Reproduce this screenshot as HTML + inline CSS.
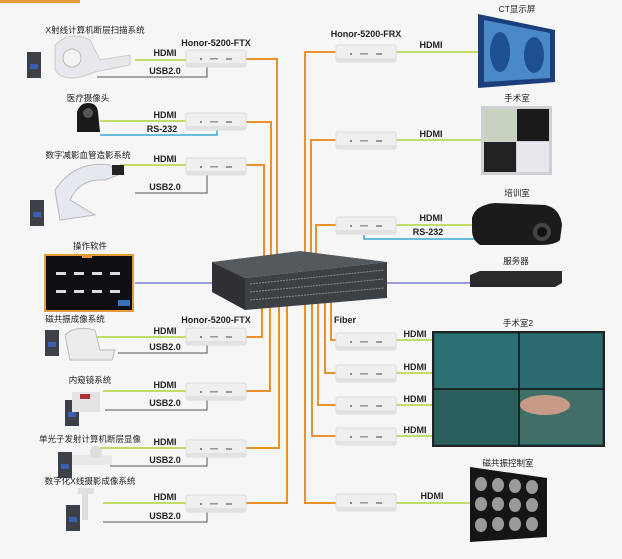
<!DOCTYPE html>
<html><head><meta charset="utf-8"><style>
html,body{margin:0;padding:0;background:#f6f6f6;}
svg{display:block}
text{font-family:"Liberation Sans","Noto Sans CJK SC",sans-serif;fill:#222;}
.l{font-size:9px;font-weight:bold}
.c{font-size:8.5px}
</style></head><body>
<svg width="622" height="559" viewBox="0 0 622 559" xmlns="http://www.w3.org/2000/svg">
<defs>
<g id="box">
<rect x="0" y="0" width="60" height="17" rx="2" fill="#efefef" stroke="#dcdcdc"/>
<rect x="0" y="13" width="60" height="4" fill="#e2e2e2"/>
<rect x="14" y="8" width="2" height="2" fill="#888"/><rect x="24" y="8" width="8" height="1.5" fill="#999"/><rect x="40" y="8" width="6" height="2" fill="#999"/>
</g>
<g id="pc">
<rect x="0" y="0" width="14" height="26" fill="#3c4048"/><rect x="3" y="12" width="8" height="5" fill="#3b5fb0"/>
</g>
</defs>
<rect x="0" y="0" width="622" height="559" fill="#f6f6f6"/>
<rect x="0" y="0" width="80" height="3" fill="#e69a3a"/>

<!-- orange fiber lines -->
<g fill="none" stroke="#e8922e" stroke-width="2">
<polyline points="246,59 277,59 277,258"/>
<polyline points="246,122 271,122 271,258"/>
<polyline points="246,165 264,165 264,260"/>
<polyline points="246,337 262,337 262,305"/>
<polyline points="246,391 270,391 270,305"/>
<polyline points="246,448 279,448 279,303"/>
<polyline points="246,503 287,503 287,302"/>
<polyline points="336,52 305,52 305,255"/>
<polyline points="336,140 311,140 311,255"/>
<polyline points="336,225 316,225 316,256"/>
<polyline points="336,340 331,340 331,300"/>
<polyline points="336,373 325,373 325,300"/>
<polyline points="336,405 318,405 318,301"/>
<polyline points="336,436 312,436 312,302"/>
<polyline points="336,503 305,503 305,302"/>
</g>
<!-- blue network line -->
<line x1="135" y1="283" x2="470" y2="283" stroke="#7c7ed0" stroke-width="1.5"/>

<!-- switch -->
<polygon points="212,262 300,251 387,262 245,278" fill="#55585c"/>
<polygon points="212,262 245,278 245,310 212,292" fill="#2e3033"/>
<polygon points="245,278 387,262 387,298 245,310" fill="#3d4044"/>
<g stroke="#8a8d90" stroke-width="1" stroke-dasharray="2,1">
<line x1="250" y1="284" x2="384" y2="270"/><line x1="250" y1="292" x2="384" y2="279"/><line x1="250" y1="300" x2="384" y2="288"/>
</g>

<!-- left HDMI/USB lines -->
<g stroke-width="1.5" fill="none">
<line x1="135" y1="60" x2="187" y2="60" stroke="#b2d23a"/>
<polyline points="97,77 207,77 207,67" stroke="#555" stroke-width="1"/>
<line x1="100" y1="121" x2="187" y2="121" stroke="#b2d23a"/>
<polyline points="100,135 217,135 217,130" stroke="#3aa8d8"/>
<line x1="120" y1="165" x2="187" y2="165" stroke="#b2d23a"/>
<polyline points="135,193 207,193 207,175" stroke="#555" stroke-width="1"/>
<line x1="97" y1="337" x2="187" y2="337" stroke="#b2d23a"/>
<polyline points="118,353 207,353 207,345" stroke="#555" stroke-width="1"/>
<line x1="103" y1="391" x2="187" y2="391" stroke="#b2d23a"/>
<polyline points="105,410 207,410 207,400" stroke="#555" stroke-width="1"/>
<line x1="100" y1="448" x2="187" y2="448" stroke="#b2d23a"/>
<polyline points="110,466 207,466 207,457" stroke="#555" stroke-width="1"/>
<line x1="103" y1="503" x2="187" y2="503" stroke="#b2d23a"/>
<polyline points="103,522 207,522 207,512" stroke="#555" stroke-width="1"/>
<!-- right -->
<line x1="394" y1="52" x2="478" y2="52" stroke="#b2d23a"/>
<line x1="394" y1="140" x2="481" y2="140" stroke="#b2d23a"/>
<line x1="394" y1="225" x2="475" y2="225" stroke="#b2d23a"/>
<polyline points="364,235 364,239 475,239" stroke="#3aa8d8"/>
<line x1="394" y1="340" x2="433" y2="340" stroke="#b2d23a"/>
<line x1="394" y1="373" x2="433" y2="373" stroke="#b2d23a"/>
<line x1="394" y1="405" x2="433" y2="405" stroke="#b2d23a"/>
<line x1="394" y1="436" x2="433" y2="436" stroke="#b2d23a"/>
<line x1="394" y1="503" x2="470" y2="503" stroke="#b2d23a"/>
</g>

<!-- boxes -->
<use href="#box" x="186" y="50"/><use href="#box" x="186" y="113"/><use href="#box" x="186" y="158"/>
<use href="#box" x="186" y="328"/><use href="#box" x="186" y="383"/><use href="#box" x="186" y="440"/><use href="#box" x="186" y="495"/>
<use href="#box" x="336" y="45"/><use href="#box" x="336" y="132"/><use href="#box" x="336" y="217"/>
<use href="#box" x="336" y="333"/><use href="#box" x="336" y="365"/><use href="#box" x="336" y="397"/><use href="#box" x="336" y="428"/><use href="#box" x="336" y="494"/>

<!-- left devices -->
<use href="#pc" x="27" y="52"/>
<path d="M55,45 Q70,30 90,40 L100,60 L130,55 L130,65 L95,72 Q65,85 55,70 Z" fill="#e8e8ec" stroke="#ccc"/>
<circle cx="72" cy="58" r="9" fill="#f4f4f4" stroke="#bbb"/>
<path d="M77,112 Q80,103 88,103 Q97,103 98,112 L100,132 L77,132 Z" fill="#1a1a1a"/>
<circle cx="88" cy="113" r="5" fill="#555"/>
<use href="#pc" x="30" y="200"/>
<path d="M55,190 Q75,160 110,165 L118,175 L105,180 Q80,178 70,200 L95,215 L60,220 Z" fill="#e6e8f0" stroke="#bbb"/>
<rect x="112" y="165" width="12" height="10" fill="#222"/>
<rect x="45" y="255" width="88" height="56" fill="#0e0f14" stroke="#e69a3a" stroke-width="2"/>
<rect x="82" y="255" width="10" height="3" fill="#e69a3a"/>
<g fill="#ddd"><rect x="56" y="272" width="10" height="3"/><rect x="74" y="272" width="10" height="3"/><rect x="92" y="272" width="10" height="3"/><rect x="110" y="272" width="10" height="3"/>
<rect x="56" y="290" width="10" height="3"/><rect x="74" y="290" width="10" height="3"/><rect x="92" y="290" width="10" height="3"/><rect x="110" y="290" width="10" height="3"/></g>
<rect x="118" y="300" width="12" height="6" fill="#3b6fc0"/>
<use href="#pc" x="45" y="330"/>
<path d="M65,335 Q75,325 95,330 L100,350 L115,350 L112,360 L70,360 Z" fill="#ececef" stroke="#bbb"/>
<use href="#pc" x="65" y="400"/>
<rect x="72" y="392" width="28" height="20" fill="#e4e4e6"/><rect x="80" y="394" width="10" height="5" fill="#a33"/>
<use href="#pc" x="58" y="452"/>
<rect x="72" y="455" width="40" height="10" fill="#e8e8ea"/><circle cx="96" cy="452" r="6" fill="#ddd"/>
<use href="#pc" x="66" y="505"/>
<rect x="82" y="490" width="6" height="30" fill="#ddd"/><rect x="78" y="488" width="16" height="6" fill="#e0e0e0"/>

<!-- right devices -->
<polygon points="478,14 555,30 555,82 478,88" fill="#1a3f7a"/>
<polygon points="484,20 550,33 550,78 484,82" fill="#4a88c8"/>
<ellipse cx="500" cy="52" rx="10" ry="20" fill="#1e4f90"/><ellipse cx="534" cy="55" rx="10" ry="18" fill="#1e4f90"/>
<rect x="481" y="106" width="71" height="69" fill="#d0d0d4"/>
<rect x="484" y="109" width="32" height="32" fill="#c8d2c0"/><rect x="517" y="109" width="32" height="32" fill="#1a1a1a"/>
<rect x="484" y="142" width="32" height="30" fill="#222"/><rect x="517" y="142" width="32" height="30" fill="#e6e8ee"/>
<path d="M472,218 Q475,205 495,203 L545,205 Q560,208 562,225 L560,240 Q555,245 540,245 L480,245 Q472,240 472,230 Z" fill="#1b1b1b"/>
<circle cx="542" cy="232" r="9" fill="#444"/><circle cx="542" cy="232" r="5" fill="#111"/>
<polygon points="470,275 480,271 562,271 562,283 555,287 470,287" fill="#2a2a2c"/>
<rect x="433" y="332" width="171" height="114" fill="#1f5a5a" stroke="#222" stroke-width="2"/>
<rect x="435" y="334" width="84" height="55" fill="#2c6f72"/><rect x="520" y="334" width="82" height="55" fill="#2a6a70"/>
<rect x="435" y="390" width="84" height="54" fill="#2b5f5c"/><rect x="520" y="390" width="82" height="54" fill="#3f6f66"/>
<ellipse cx="545" cy="405" rx="25" ry="10" fill="#c89a88"/>
<line x1="519" y1="332" x2="519" y2="446" stroke="#111" stroke-width="1.5"/><line x1="433" y1="389" x2="604" y2="389" stroke="#111" stroke-width="1.5"/>
<polygon points="470,467 547,478 547,537 470,542" fill="#151515"/>
<g fill="#9a9a9a">
<ellipse cx="481" cy="484" rx="6" ry="7"/><ellipse cx="498" cy="485" rx="6" ry="7"/><ellipse cx="515" cy="486" rx="6" ry="7"/><ellipse cx="532" cy="487" rx="6" ry="7"/>
<ellipse cx="481" cy="504" rx="6" ry="7"/><ellipse cx="498" cy="504" rx="6" ry="7"/><ellipse cx="515" cy="505" rx="6" ry="7"/><ellipse cx="532" cy="505" rx="6" ry="7"/>
<ellipse cx="481" cy="525" rx="6" ry="7"/><ellipse cx="498" cy="524" rx="6" ry="7"/><ellipse cx="515" cy="524" rx="6" ry="7"/><ellipse cx="532" cy="524" rx="6" ry="7"/>
</g>

<!-- labels -->
<g class="c" text-anchor="middle">
<text x="95" y="33">X射线计算机断层扫描系统</text>
<text x="88" y="101">医疗摄像头</text>
<text x="88" y="158">数字减影血管造影系统</text>
<text x="90" y="249">操作软件</text>
<text x="75" y="322">磁共振成像系统</text>
<text x="90" y="383">内窥镜系统</text>
<text x="90" y="442">单光子发射计算机断层显像</text>
<text x="90" y="484">数字化X线摄影成像系统</text>
<text x="517" y="12">CT显示屏</text>
<text x="517" y="101">手术室</text>
<text x="517" y="196">培训室</text>
<text x="516" y="264">服务器</text>
<text x="518" y="326">手术室2</text>
<text x="508" y="466">磁共振控制室</text>
</g>
<g class="l" text-anchor="middle">
<text x="216" y="46">Honor-5200-FTX</text>
<text x="216" y="323">Honor-5200-FTX</text>
<text x="366" y="37">Honor-5200-FRX</text>
<text x="165" y="56">HDMI</text><text x="165" y="74">USB2.0</text>
<text x="165" y="118">HDMI</text><text x="162" y="132">RS-232</text>
<text x="165" y="162">HDMI</text><text x="165" y="190">USB2.0</text>
<text x="165" y="334">HDMI</text><text x="165" y="350">USB2.0</text>
<text x="165" y="388">HDMI</text><text x="165" y="406">USB2.0</text>
<text x="165" y="445">HDMI</text><text x="165" y="463">USB2.0</text>
<text x="165" y="500">HDMI</text><text x="165" y="519">USB2.0</text>
<text x="431" y="48">HDMI</text><text x="431" y="137">HDMI</text>
<text x="431" y="221">HDMI</text><text x="428" y="235">RS-232</text>
<text x="415" y="337">HDMI</text><text x="415" y="370">HDMI</text><text x="415" y="402">HDMI</text><text x="415" y="433">HDMI</text>
<text x="432" y="499">HDMI</text>
<text x="345" y="323">Fiber</text>
</g>
</svg>
</body></html>
